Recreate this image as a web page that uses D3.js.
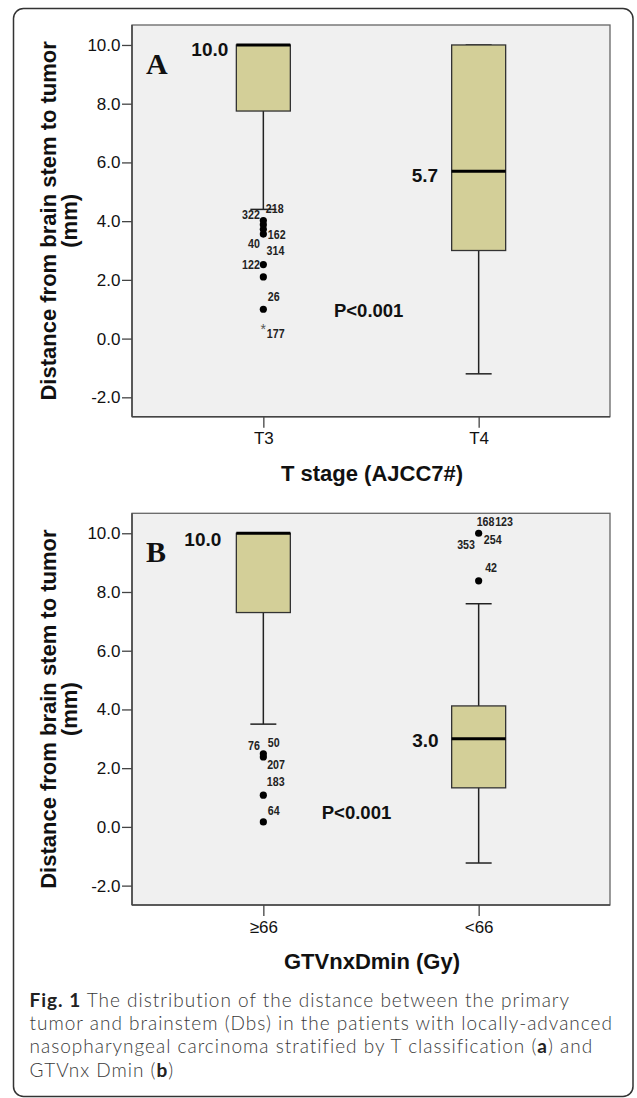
<!DOCTYPE html>
<html>
<head>
<meta charset="utf-8">
<script src="https://cdn.jsdelivr.net/npm/d3@7"></script>
<style>
  body { margin: 0; background: #fff; }
</style>
</head>
<body>
<div id="chart"></div>
<script>
// ---- Panel A: T stage (AJCC7#) ----
const groupsA = ["T3", "T4"];
const lowA = [4.4, -1.2];
const q1A = [7.75, 3.0];
const medA = [10.0, 5.7];
const q3A = [10.0, 10.0];
const highA = [10.0, 10.0];
const medTextA = ["10.0", "5.7"];
const outGroupA = [0, 0, 0, 0, 0, 0, 0];
const outValA = [4.02, 3.88, 3.72, 3.56, 2.52, 2.1, 1.0];
const extGroupA = [0];
const extValA = [0.5];
const caseIdA = ["322", "218", "162", "40", "314", "122", "26", "177"];
const caseGroupA = [0, 0, 0, 0, 0, 0, 0, 0];
const caseValA = [4.02, 4.02, 3.56, 3.56, 2.52, 2.52, 1.0, 0.5];

// ---- Panel B: GTVnxDmin (Gy) ----
const groupsB = ["≥66", "<66"];
const lowB = [3.5, -1.23];
const q1B = [7.3, 1.33];
const medB = [10.0, 3.0];
const q3B = [10.0, 4.12];
const highB = [10.0, 7.6];
const medTextB = ["10.0", "3.0"];
const outGroupB = [0, 0, 0, 0, 1, 1];
const outValB = [2.49, 2.38, 1.08, 0.17, 10.0, 8.38];
const extGroupB = [];
const extValB = [];
const caseIdB = ["76", "50", "207", "183", "64", "168", "123", "254", "353", "42"];
const caseGroupB = [0, 0, 0, 0, 0, 1, 1, 1, 1, 1];
const caseValB = [2.49, 2.49, 2.38, 1.08, 0.17, 10.0, 10.0, 10.0, 10.0, 8.38];

const yTicks = [-2, 0, 2, 4, 6, 8, 10];
const yTitle = ["Distance from brain stem to tumor", "(mm)"];
const pText = "P<0.001";
const captionLines = [
  ["Fig. 1", " The distribution of the distance between the primary"],
  ["", "tumor and brainstem (Dbs) in the patients with locally-advanced"],
  ["", "nasopharyngeal carcinoma stratified by T classification ("],
  ["", "GTVnx Dmin ("]
];

// label placement (pixels relative to the point): dx, dy, anchor
const caseLayoutA = [[-3.5, -6, "end"], [2.5, -12, "start"], [4.5, 0.7, "start"], [-3.5, 9.7, "end"],
  [3.2, -14, "start"], [-3.5, 0, "end"], [4.5, -12.6, "start"], [3.5, 9.7, "start"]];
const caseLayoutB = [[-3.5, -8.7, "end"], [4.5, -11.7, "start"], [3.8, 7.3, "start"], [3.5, -13.3, "start"],
  [4.5, -11.7, "start"], [-2, -11.7, "start"], [16.5, -11.7, "start"], [5.2, 6.3, "start"],
  [-3.7, 11.6, "end"], [6.5, -13.3, "start"]];
const medLayoutA = [[8, 4.3], [13.5, 4]];
const medLayoutB = [[15, 5.6], [13, 1.7]];

const W = 637, H = 1098;
const plotL = 132, plotR = 610, plotH = 391.7;
const boxW = 54, capW = 26;

const svg = d3.select("#chart").append("svg")
  .attr("width", W).attr("height", H)
  .style("font-family", "'Liberation Sans', Arial, sans-serif");

// outer frame
svg.append("rect")
  .attr("x", 13.5).attr("y", 8.5)
  .attr("width", 619.5).attr("height", 1088)
  .attr("rx", 10)
  .attr("fill", "#fff")
  .attr("stroke", "#333")
  .attr("stroke-width", 1.5);

function drawPanel(top, p) {
  const g = svg.append("g").attr("transform", `translate(0,${top})`);

  const x = d3.scalePoint().domain(p.groups).range([plotL, plotR]).padding(0.61);
  const y = d3.scaleLinear().domain([-2.66, 10.68]).range([plotH, 0]);

  // plot background
  g.append("rect")
    .attr("x", plotL).attr("y", 0)
    .attr("width", plotR - plotL).attr("height", plotH)
    .attr("fill", "#f0f0f0")
    .attr("stroke", "#666")
    .attr("stroke-width", 1.3);

  // y axis
  const yAxis = g.append("g")
    .attr("transform", `translate(${plotL},0)`)
    .call(d3.axisLeft(y).tickValues(yTicks).tickFormat(d => d.toFixed(1)).tickSize(10).tickPadding(1.5));
  yAxis.select(".domain").remove();
  yAxis.selectAll("line").attr("stroke", "#444").attr("stroke-width", 1.3);
  yAxis.selectAll("text")
    .attr("font-size", 17)
    .attr("font-family", "'Liberation Sans', Arial, sans-serif")
    .attr("fill", "#111");

  // x axis
  const xAxis = g.append("g")
    .attr("transform", `translate(0,${plotH})`)
    .call(d3.axisBottom(x).tickSize(11).tickPadding(4.5));
  xAxis.select(".domain").remove();
  xAxis.selectAll("line").attr("stroke", "#444").attr("stroke-width", 1.3);
  xAxis.selectAll("text")
    .attr("font-size", 17)
    .attr("font-family", "'Liberation Sans', Arial, sans-serif")
    .attr("fill", "#111");

  // left and bottom axis lines a little darker
  g.append("line").attr("x1", plotL).attr("x2", plotL).attr("y1", 0).attr("y2", plotH)
    .attr("stroke", "#444").attr("stroke-width", 1.5);
  g.append("line").attr("x1", plotL).attr("x2", plotR).attr("y1", plotH).attr("y2", plotH)
    .attr("stroke", "#444").attr("stroke-width", 1.5);

  // axis titles
  g.append("text")
    .attr("x", (plotL + plotR) / 2 + 1).attr("y", plotH + 64)
    .attr("text-anchor", "middle")
    .attr("font-size", 22).attr("font-weight", "bold").attr("fill", "#111")
    .text(p.xTitle);

  const cy = plotH / 2;
  g.append("text")
    .attr("transform", `translate(55.5,${cy}) rotate(-90)`)
    .attr("text-anchor", "middle")
    .attr("font-size", 22).attr("font-weight", "bold").attr("fill", "#111")
    .text(yTitle[0]);
  g.append("text")
    .attr("transform", `translate(77,${cy}) rotate(-90)`)
    .attr("text-anchor", "middle")
    .attr("font-size", 22).attr("font-weight", "bold").attr("fill", "#111")
    .text(yTitle[1]);

  // panel letter
  g.append("text")
    .attr("x", plotL + 14).attr("y", 48.5)
    .attr("font-family", "'Liberation Serif', 'Times New Roman', serif")
    .attr("font-size", 30).attr("font-weight", "bold").attr("fill", "#111")
    .text(p.letter);

  const idx = d3.range(p.groups.length);

  // whiskers
  g.selectAll(".whisker").data(idx).enter().append("line")
    .attr("x1", i => x(p.groups[i])).attr("x2", i => x(p.groups[i]))
    .attr("y1", i => y(p.high[i])).attr("y2", i => y(p.low[i]))
    .attr("stroke", "#222").attr("stroke-width", 1.5);
  g.selectAll(".capHi").data(idx).enter().append("line")
    .attr("x1", i => x(p.groups[i]) - capW / 2).attr("x2", i => x(p.groups[i]) + capW / 2)
    .attr("y1", i => y(p.high[i])).attr("y2", i => y(p.high[i]))
    .attr("stroke", "#222").attr("stroke-width", 1.5);
  g.selectAll(".capLo").data(idx).enter().append("line")
    .attr("x1", i => x(p.groups[i]) - capW / 2).attr("x2", i => x(p.groups[i]) + capW / 2)
    .attr("y1", i => y(p.low[i])).attr("y2", i => y(p.low[i]))
    .attr("stroke", "#222").attr("stroke-width", 1.5);

  // boxes
  g.selectAll(".box").data(idx).enter().append("rect")
    .attr("x", i => x(p.groups[i]) - boxW / 2)
    .attr("width", boxW)
    .attr("y", i => y(p.q3[i]))
    .attr("height", i => y(p.q1[i]) - y(p.q3[i]))
    .attr("fill", "#d3cf98")
    .attr("stroke", "#333").attr("stroke-width", 1.3);

  // medians
  g.selectAll(".median").data(idx).enter().append("line")
    .attr("x1", i => x(p.groups[i]) - boxW / 2).attr("x2", i => x(p.groups[i]) + boxW / 2)
    .attr("y1", i => y(p.med[i])).attr("y2", i => y(p.med[i]))
    .attr("stroke", "#000").attr("stroke-width", 3);

  g.selectAll(".medText").data(idx).enter().append("text")
    .attr("x", i => x(p.groups[i]) - boxW / 2 - p.medLayout[i][0])
    .attr("y", i => y(p.med[i]) + p.medLayout[i][1])
    .attr("dy", "0.35em")
    .attr("text-anchor", "end")
    .attr("font-size", 19).attr("font-weight", "bold").attr("fill", "#111")
    .text(i => p.medText[i]);

  // outliers
  g.selectAll(".out").data(p.outVal).enter().append("circle")
    .attr("cx", (d, i) => x(p.groups[p.outGroup[i]]))
    .attr("cy", d => y(d))
    .attr("r", 3.6)
    .attr("fill", "#000");

  g.selectAll(".ext").data(p.extVal).enter().append("text")
    .attr("x", (d, i) => x(p.groups[p.extGroup[i]]))
    .attr("y", d => y(d))
    .attr("dy", "0.7em")
    .attr("text-anchor", "middle")
    .attr("font-size", 14).attr("fill", "#555")
    .text("*");

  // case labels (horizontally squeezed to mimic a narrow bold face)
  g.selectAll(".case").data(p.caseId).enter().append("text")
    .attr("transform", (d, i) =>
      `translate(${x(p.groups[p.caseGroup[i]]) + p.caseLayout[i][0]},${y(p.caseVal[i]) + p.caseLayout[i][1]}) scale(0.82,1)`)
    .attr("dy", "0.35em")
    .attr("text-anchor", (d, i) => p.caseLayout[i][2])
    .attr("font-size", 13).attr("font-weight", "bold").attr("fill", "#222")
    .text(d => d);

  // p-value
  g.append("text")
    .attr("x", plotL + p.pOffset)
    .attr("y", y(p.pVal))
    .attr("dy", "0.35em")
    .attr("text-anchor", "middle")
    .attr("font-size", 18.5).attr("font-weight", "bold").attr("fill", "#111")
    .text(pText);
}

drawPanel(25, {
  letter: "A", xTitle: "T stage (AJCC7#)",
  groups: groupsA, low: lowA, q1: q1A, med: medA, q3: q3A, high: highA, medText: medTextA,
  outGroup: outGroupA, outVal: outValA, extGroup: extGroupA, extVal: extValA,
  caseId: caseIdA, caseGroup: caseGroupA, caseVal: caseValA, caseLayout: caseLayoutA,
  medLayout: medLayoutA, pOffset: 236.7, pVal: 0.96
});

drawPanel(513.3, {
  letter: "B", xTitle: "GTVnxDmin (Gy)",
  groups: groupsB, low: lowB, q1: q1B, med: medB, q3: q3B, high: highB, medText: medTextB,
  outGroup: outGroupB, outVal: outValB, extGroup: extGroupB, extVal: extValB,
  caseId: caseIdB, caseGroup: caseGroupB, caseVal: caseValB, caseLayout: caseLayoutB,
  medLayout: medLayoutB, pOffset: 224.5, pVal: 0.48
});

// caption (Lato keeps the line boxes inside the 23.3px spacing)
const cap = svg.append("g")
  .attr("font-family", "Lato, 'Liberation Sans', sans-serif")
  .attr("font-size", 19)
  .attr("font-weight", 300)
  .attr("fill", "#3a3a3a");
const capY = [1006.5, 1029.8, 1053.2, 1076.5];
const capTexts = [];
captionLines.forEach((ln, i) => {
  const t = cap.append("text").attr("x", 29.5).attr("y", capY[i]);
  if (ln[0]) t.append("tspan").attr("font-weight", "bold").attr("fill", "#222").text(ln[0]);
  t.append("tspan").text(ln[1]);
  if (i === 2) {
    t.append("tspan").attr("font-weight", "bold").attr("fill", "#222").text("a");
    t.append("tspan").text(") and");
  }
  if (i === 3) {
    t.append("tspan").attr("font-weight", "bold").attr("fill", "#222").text("b");
    t.append("tspan").text(")");
  }
  capTexts.push(t);
});
// stretch letter spacing so the longest line spans the same width as the reference
const line2 = capTexts[1].node();
const n2 = captionLines[1][1].length;
const ls = (582.5 - line2.getComputedTextLength()) / (n2 - 1);
cap.attr("letter-spacing", Math.max(0, ls).toFixed(2));
</script>
</body>
</html>
